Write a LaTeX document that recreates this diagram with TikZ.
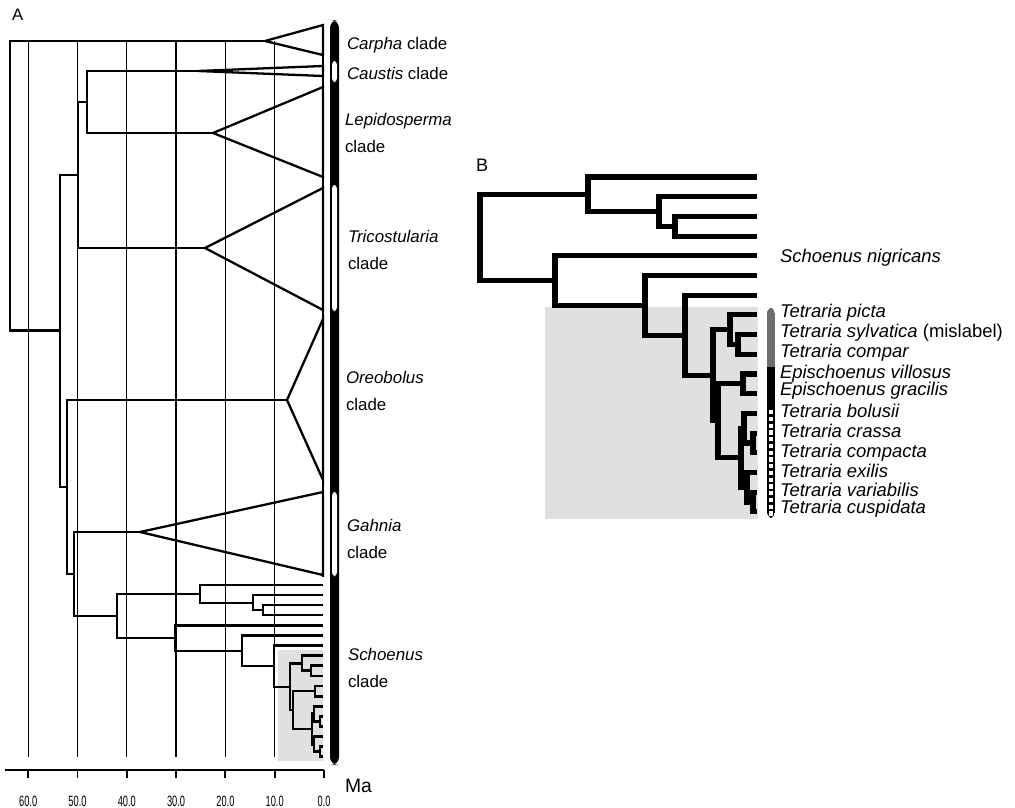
\documentclass[tikz,border=0pt]{standalone}
\usepackage{graphicx}
\usepackage{fontspec}
\setmainfont{Liberation Sans}
\usetikzlibrary{positioning,calc}

\begin{document}
\begin{tikzpicture}[x=0.02cm, y=-0.02cm,
    every node/.style={inner sep=0pt, outer sep=0pt},
    ageline/.style={line width=0.7pt},
    branch/.style={line width=1.3pt},
    subbranch/.style={line width=1.6pt},
    fatbranch/.style={line width=2.9pt},
    cladelbl/.style={anchor=base west, align=left, font=\fontsize{9.6}{15}\selectfont},
    taxon/.style={anchor=base west, font=\fontsize{10.5}{12}\selectfont\itshape},
    ticklbl/.style={anchor=base, font=\fontsize{8.5}{10}\selectfont}]
  \useasboundingbox (0,0) rectangle (1015,808);

  \node[anchor=base west, font=\fontsize{9.5}{11}\selectfont] (lblA) at (12,20) {A};
  \node[anchor=base west, font=\fontsize{10.3}{12}\selectfont] (lblB) at (476,171) {B};

  %% ---- panel A: chronogram ----
  \fill[black!12] (278,650) rectangle (323,761);
  \foreach \age in {10,20,...,60}
    \draw[ageline] ({324-4.93*\age},41) -- ({324-4.93*\age},757);
  \draw[ageline] (323,25) -- (323,577);

  % time axis
  \draw[line width=1.1pt] (5,770) -- (324,770);
  \foreach \age in {0,10,...,60} {
    \draw[line width=1.1pt] ({324-4.93*\age},770) -- ({324-4.93*\age},778);
    \node[ticklbl] (tick\age) at ({324-4.93*\age},806) {\scalebox{0.62}[1]{\age.0}};
  }
  \node[anchor=base west, font=\fontsize{11}{13}\selectfont] (ma) at (345,792) {Ma};

  % backbone
  \coordinate (root) at (10,186);
  \coordinate (n1) at (60,330.5);
  \coordinate (n2) at (78,175);
  \coordinate (n3) at (87,102);
  \coordinate (n4) at (67,487);
  \coordinate (n5) at (74,574);
  \coordinate (carpha) at (265,41);
  \coordinate (caustis) at (198,71);
  \coordinate (lepido) at (213,133);
  \coordinate (tricost) at (205,248);
  \coordinate (oreo) at (287,400);
  \coordinate (gahnia) at (140,532);

  % Schoenus clade
  \foreach \i in {1,...,18}
    \coordinate (a\i) at (323,{585+10.1*(\i-1)});
  \coordinate (s0) at (117,616);
  \coordinate (s1) at (200,593.8);
  \coordinate (s2) at (175,638);
  \coordinate (s3) at (253,602.7);
  \coordinate (s4) at (263,610.2);
  \coordinate (s5) at (242,650.8);
  \coordinate (s6) at (274,666);
  \coordinate (t0) at (290,686.7);
  \coordinate (t1) at (302,663.3);
  \coordinate (t2) at (293,710);
  \coordinate (t3) at (311,670.85);
  \coordinate (t4) at (315,691);
  \coordinate (t5) at (312,729);
  \coordinate (t6) at (314,713.8);
  \coordinate (t7) at (320,721.35);
  \coordinate (t8) at (314,744.1);
  \coordinate (t9) at (320,751.65);

  \draw[branch] (root) |- (carpha) (root) |- (n1);
  \draw[branch] (n1) |- (n2) (n1) |- (n4);
  \draw[branch] (n2) |- (n3) (n2) |- (tricost);
  \draw[branch] (n3) |- (caustis) (n3) |- (lepido);
  \draw[branch] (n4) |- (oreo) (n4) |- (n5);
  \draw[branch] (n5) |- (gahnia) (n5) |- (s0);
  \draw[branch] (carpha) -- (323,25) -- (323,55) -- cycle;
  \draw[branch] (caustis) -- (323,66) -- (323,76) -- cycle;
  \draw[branch] (lepido) -- (323,87) -- (323,177) -- cycle;
  \draw[branch] (tricost) -- (323,188) -- (323,310) -- cycle;
  \draw[branch] (oreo) -- (323,319) -- (323,480) -- cycle;
  \draw[branch] (gahnia) -- (323,492) -- (323,575) -- cycle;

  \draw[branch] (s0) |- (s1) (s0) |- (s2);
  \draw[branch] (s1) |- (a1) (s1) |- (s3) (s3) |- (a2) (s3) |- (s4);
  \draw[branch] (s4) |- (a3) (s4) |- (a4);
  \draw[branch] (s2) |- (a5) (s2) |- (s5) (s5) |- (a6) (s5) |- (s6);
  \draw[branch] (s6) |- (a7) (s6) |- (t0);
  \draw[subbranch] (t0) |- (t1) (t0) |- (t2) (t1) |- (a8) (t1) |- (t3);
  \draw[subbranch] (t3) |- (a9) (t3) |- (a10) (t2) |- (t4) (t2) |- (t5);
  \draw[subbranch] (t4) |- (a11) (t4) |- (a12) (t5) |- (t6) (t5) |- (t8);
  \draw[subbranch] (t6) |- (a13) (t6) |- (t7) (t7) |- (a14) (t7) |- (a15);
  \draw[subbranch] (t8) |- (a16) (t8) |- (t9) (t9) |- (a17) (t9) |- (a18);

  % clade bar
  \fill[rounded corners=4.5] (330,20) rectangle (339,765);
  \fill[white, rounded corners=2] (332,61) rectangle (337,82);
  \fill[white, rounded corners=2] (332,185) rectangle (337,311);
  \fill[white, rounded corners=2] (332,492) rectangle (337,576);

  \node[cladelbl] (carphaLbl) at (347,50) {\textit{Carpha} clade};
  \node[cladelbl] (caustisLbl) at (347,79) {\textit{Caustis} clade};
  \node[cladelbl] (lepidoLbl) at (345,152) {\textit{Lepidosperma}\\clade};
  \node[cladelbl] (tricostLbl) at (348,269) {\textit{Tricostularia}\\clade};
  \node[cladelbl] (oreoLbl) at (346,410) {\textit{Oreobolus}\\clade};
  \node[cladelbl] (gahniaLbl) at (347,558) {\textit{Gahnia}\\clade};
  \node[cladelbl] (schoenusLbl) at (348,687) {\textit{Schoenus}\\clade};

  %% ---- panel B: Schoenus clade ----
  \fill[black!12] (545,307) rectangle (758,519);
  \foreach \i in {1,...,18}
    \coordinate (b\i) at (757,{177+19.7*(\i-1)});
  \coordinate (r) at (480,237.4);
  \coordinate (p1) at (588,194.2);
  \coordinate (p2) at (659,211.5);
  \coordinate (p3) at (675,226.25);
  \coordinate (q1) at (555,280.6);
  \coordinate (q2) at (645,305.4);
  \coordinate (q3) at (685,335.2);
  \coordinate (u0) at (713,375.2);
  \coordinate (u1) at (730,329.7);
  \coordinate (u2) at (718,420.8);
  \coordinate (u3) at (738,344.45);
  \coordinate (u4) at (743,383.85);
  \coordinate (u5) at (741,457.7);
  \coordinate (u6) at (744,428.2);
  \coordinate (u7) at (753,442.95);
  \coordinate (u8) at (747,487.3);
  \coordinate (u9) at (753,502.05);

  \draw[fatbranch] (r) |- (p1) (r) |- (q1);
  \draw[fatbranch] (p1) |- (b1) (p1) |- (p2) (p2) |- (b2) (p2) |- (p3);
  \draw[fatbranch] (p3) |- (b3) (p3) |- (b4);
  \draw[fatbranch] (q1) |- (b5) (q1) |- (q2) (q2) |- (b6) (q2) |- (q3);
  \draw[fatbranch] (q3) |- (b7) (q3) |- (u0) (u0) |- (u1) (u0) |- (u2);
  \draw[fatbranch] (u1) |- (b8) (u1) |- (u3) (u3) |- (b9) (u3) |- (b10);
  \draw[fatbranch] (u2) |- (u4) (u2) |- (u5) (u4) |- (b11) (u4) |- (b12);
  \draw[fatbranch] (u5) |- (u6) (u5) |- (u8) (u6) |- (b13) (u6) |- (u7);
  \draw[fatbranch] (u7) |- (b14) (u7) |- (b15) (u8) |- (b16) (u8) |- (u9);
  \draw[fatbranch] (u9) |- (b17) (u9) |- (b18);

  % group bar
  \begin{scope}
    \clip[rounded corners=3.5] (767,308) rectangle (775,518);
    \fill (767,308) rectangle (775,518);
    \fill[black!57] (767,308) rectangle (775,367);
  \end{scope}
  \foreach \k in {0,...,15}
    \fill[white] (768.8,{410+6.75*\k}) rectangle (773.2,{414.3+6.75*\k});

  \node[taxon] (nigricans) at (780,262) {Schoenus nigricans};
  \node[taxon] (picta) at (780,317) {Tetraria picta};
  \node[taxon] (sylvatica) at (780,337) {Tetraria sylvatica \upshape(mislabel)};
  \node[taxon] (compar) at (780,357) {Tetraria compar};
  \node[taxon] (villosus) at (780,378) {Epischoenus villosus};
  \node[taxon] (gracilis) at (780,395) {Epischoenus gracilis};
  \node[taxon] (bolusii) at (780,417) {Tetraria bolusii};
  \node[taxon] (crassa) at (780,437) {Tetraria crassa};
  \node[taxon] (compacta) at (780,457) {Tetraria compacta};
  \node[taxon] (exilis) at (780,477) {Tetraria exilis};
  \node[taxon] (variabilis) at (780,496) {Tetraria variabilis};
  \node[taxon] (cuspidata) at (780,513) {Tetraria cuspidata};
\end{tikzpicture}
\end{document}
